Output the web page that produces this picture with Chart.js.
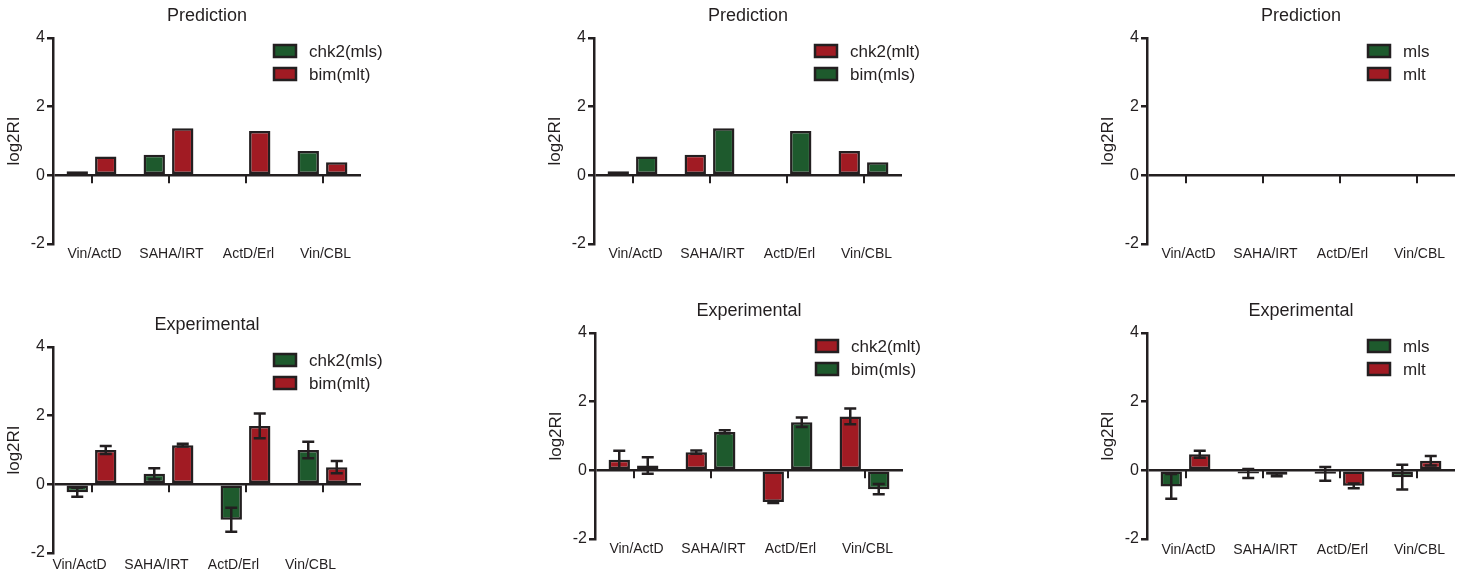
<!DOCTYPE html>
<html>
<head>
<meta charset="utf-8">
<title>log2RI prediction vs experimental</title>
<script src="https://cdn.jsdelivr.net/npm/chart.js@4.4.1/dist/chart.umd.min.js"></script>
<style>
  body { margin: 0; background: #fff; width: 1468px; height: 573px; overflow: hidden; position: relative; }
  canvas { position: absolute; }
</style>
</head>
<body>
<canvas id="p1" width="395" height="262" style="left:0px;top:2px"></canvas>
<canvas id="p2" width="395" height="262" style="left:541px;top:2px"></canvas>
<canvas id="p3" width="395" height="262" style="left:1094px;top:2px"></canvas>
<canvas id="p4" width="395" height="262" style="left:0px;top:311px"></canvas>
<canvas id="p5" width="395" height="262" style="left:542px;top:297px"></canvas>
<canvas id="p6" width="395" height="262" style="left:1094px;top:297px"></canvas>
<script>
const categories = ['Vin/ActD', 'SAHA/IRT', 'ActD/Erl', 'Vin/CBL'];
const yTicks = [-2, 0, 2, 4];

// prediction (same numbers, only the mls/mlt tag changes between panels)
const predChk2 = [0.12, 0.60, 0, 0.71];
const predBim = [0.55, 1.37, 1.29, 0.38];
const predMls = [0, 0, 0, 0];
const predMlt = [0, 0, 0, 0];

// experimental, mean and error
const expChk2Mls = [-0.23, 0.31, -1.03, 1.00];
const expChk2MlsErr = [0.13, 0.16, 0.35, 0.24];
const expBimMlt = [1.00, 1.14, 1.70, 0.50];
const expBimMltErr = [0.12, 0.04, 0.36, 0.18];

const expChk2Mlt = [0.31, 0.53, -0.92, 1.57];
const expChk2MltErr = [0.26, 0.05, 0.03, 0.23];
const expBimMls = [0.14, 1.12, 1.40, -0.55];
const expBimMlsErr = [0.24, 0.05, 0.14, 0.15];

const expMls = [-0.47, -0.09, -0.10, -0.20];
const expMlsErr = [0.36, 0.13, 0.20, 0.36];
const expMlt = [0.47, -0.13, -0.45, 0.28];
const expMltErr = [0.10, 0.04, 0.07, 0.14];

const INK = '#231f20';
const GREEN = '#1e5a2d';
const RED = '#a11b23';
const FONT = "'Liberation Sans', Arial, sans-serif";

// error bars, category ticks under the zero line, and the in-plot legend
const prismBits = {
  id: 'prismBits',
  afterDatasetsDraw(chart) {
    const ctx = chart.ctx;
    const xs = chart.scales.x, ys = chart.scales.y, area = chart.chartArea;
    ctx.save();
    ctx.strokeStyle = INK;
    ctx.lineWidth = 2.5;
    chart.data.datasets.forEach((ds, d) => {
      if (!ds.errors) return;
      chart.getDatasetMeta(d).data.forEach((bar, j) => {
        const e = ds.errors[j];
        if (!e) return;
        const hi = ys.getPixelForValue(ds.data[j] + e);
        const lo = ys.getPixelForValue(ds.data[j] - e);
        ctx.beginPath();
        ctx.moveTo(bar.x, hi); ctx.lineTo(bar.x, lo);
        ctx.moveTo(bar.x - 6, hi); ctx.lineTo(bar.x + 6, hi);
        ctx.moveTo(bar.x - 6, lo); ctx.lineTo(bar.x + 6, lo);
        ctx.stroke();
      });
    });

    const y0 = ys.getPixelForValue(0);
    ctx.lineWidth = 2;
    categories.forEach((c, i) => {
      const px = Math.round(xs.getPixelForValue(i));
      ctx.beginPath();
      ctx.moveTo(px, y0);
      ctx.lineTo(px, y0 + 8);
      ctx.stroke();
    });

    ctx.font = '17px ' + FONT;
    ctx.textBaseline = 'middle';
    chart.data.datasets.forEach((ds, d) => {
      const cy = area.top + 13 + d * 23;
      const bx = area.right - 87;
      ctx.fillStyle = ds.backgroundColor;
      ctx.fillRect(bx, cy - 6, 22, 12);
      ctx.lineWidth = 2.5;
      ctx.strokeRect(bx, cy - 6, 22, 12);
      ctx.fillStyle = INK;
      ctx.fillText(ds.label, area.right - 52, cy + 1);
    });
    ctx.restore();
  }
};

function panel(id, title, sets, labelOffset, labelPad) {
  new Chart(document.getElementById(id), {
    type: 'bar',
    data: {
      labels: categories,
      datasets: sets.map(s => ({
        label: s.label,
        data: s.data,
        errors: s.errors,
        backgroundColor: s.color,
        borderColor: INK,
        borderWidth: 2.5,
        borderSkipped: false,
        categoryPercentage: 0.74,
        barPercentage: 0.75
      }))
    },
    options: {
      responsive: false,
      animation: false,
      layout: { padding: { left: 0, right: 34, top: 0, bottom: 0 } },
      plugins: {
        legend: { display: false },
        tooltip: { enabled: false },
        title: {
          display: true,
          text: title,
          fullSize: false,
          color: INK,
          font: { family: FONT, size: 18, weight: 'normal' },
          padding: { top: 3, bottom: 11.4 }
        }
      },
      scales: {
        x: {
          offset: true,
          grid: { display: false, drawTicks: false },
          border: { display: false },
          ticks: {
            color: INK,
            font: { family: FONT, size: 14 },
            padding: labelPad,
            labelOffset: labelOffset,
            maxRotation: 0,
            autoSkip: false
          },
          afterFit: s => { s.height = 20; }
        },
        y: {
          min: -2,
          max: 4,
          afterBuildTicks: s => { s.ticks = yTicks.map(v => ({ value: v })); },
          border: { display: true, color: INK, width: 2.5 },
          grid: {
            color: c => (c.tick && c.tick.value === 0 ? INK : 'rgba(0,0,0,0)'),
            lineWidth: 2.5,
            tickColor: INK,
            tickLength: 6,
            tickWidth: 2.5
          },
          ticks: { color: INK, font: { family: FONT, size: 16 }, padding: 2 },
          title: {
            display: true,
            text: 'log2RI',
            color: INK,
            font: { family: FONT, size: 17 },
            padding: { top: 4, bottom: 0 }
          },
          afterFit: s => { s.width = 53; }
        }
      }
    },
    plugins: [prismBits]
  });
}

panel('p1', 'Prediction', [
  { label: 'chk2(mls)', data: predChk2, color: GREEN },
  { label: 'bim(mlt)', data: predBim, color: RED }
], 3, 2);

panel('p2', 'Prediction', [
  { label: 'chk2(mlt)', data: predChk2, color: RED },
  { label: 'bim(mls)', data: predBim, color: GREEN }
], 3, 2);

panel('p3', 'Prediction', [
  { label: 'mls', data: predMls, color: GREEN },
  { label: 'mlt', data: predMlt, color: RED }
], 3, 2);

panel('p4', 'Experimental', [
  { label: 'chk2(mls)', data: expChk2Mls, errors: expChk2MlsErr, color: GREEN },
  { label: 'bim(mlt)', data: expBimMlt, errors: expBimMltErr, color: RED }
], -12, 4);

panel('p5', 'Experimental', [
  { label: 'chk2(mlt)', data: expChk2Mlt, errors: expChk2MltErr, color: RED },
  { label: 'bim(mls)', data: expBimMls, errors: expBimMlsErr, color: GREEN }
], 3, 2);

panel('p6', 'Experimental', [
  { label: 'mls', data: expMls, errors: expMlsErr, color: GREEN },
  { label: 'mlt', data: expMlt, errors: expMltErr, color: RED }
], 3, 3);
</script>
</body>
</html>
